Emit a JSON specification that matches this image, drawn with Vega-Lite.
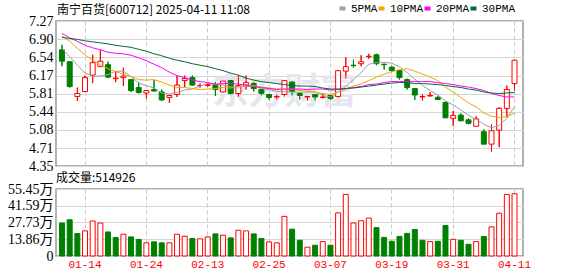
{
  "$schema": "https://vega.github.io/schema/vega-lite/v6.json",
  "padding": {"left": 5, "top": 2, "right": 5, "bottom": 0},
  "background": "white",
  "spacing": -3,
  "resolve": {"scale": {"color": "independent"}, "legend": {"color": "independent"}},
  "config": {
    "view": {"stroke": "#999999", "strokeWidth": 1.5},
    "axis": {"gridColor": "#d6d6d6", "gridWidth": 1, "domain": false, "ticks": false, "labelColor": "#000000", "labelFont": "Liberation Serif, Noto Sans CJK SC", "labelFontSize": 14, "labelPadding": 3, "labelOverlap": false, "title": null},
    "axisY": {"minExtent": 50, "maxExtent": 50},
    "title": {"anchor": "start", "frame": "group", "fontWeight": "normal", "font": "Noto Sans CJK SC", "fontSize": 12, "color": "#000000"},
    "legend": {"orient": "none", "legendX": 1, "legendY": -18, "padding": 0, "direction": "horizontal", "gridAlign": "none",
               "titleOrient": "left", "titleFont": "Noto Sans CJK SC", "titleFontSize": 12, "titleFontWeight": "normal", "titleColor": "#000000", "titlePadding": 86, "titleLimit": 400,
               "labelFont": "Liberation Mono", "labelFontSize": 11, "labelColor": "#000000", "symbolType": "stroke", "symbolSize": 36, "symbolStrokeWidth": 4, "labelOffset": 3, "columnPadding": -8}
  },
  "datasets": {
    "k": [
      {"d":"01-09","o":6.69,"h":6.79,"l":6.36,"c":6.46,"v":27.3,"vu":0,"5PMA":6.72,"10PMA":6.97,"20PMA":7.02,"30PMA":6.94},
      {"d":"01-10","o":6.45,"h":6.45,"l":5.93,"c":5.95,"v":30.0,"vu":0,"5PMA":6.55,"10PMA":6.86,"20PMA":6.93,"30PMA":6.92},
      {"d":"01-13","o":5.75,"h":5.93,"l":5.66,"c":5.81,"v":18.6,"vu":0,"5PMA":6.38,"10PMA":6.72,"20PMA":6.86,"30PMA":6.90},
      {"d":"01-14","o":5.85,"h":6.17,"l":5.85,"c":6.13,"v":20.8,"vu":1,"5PMA":6.22,"10PMA":6.59,"20PMA":6.78,"30PMA":6.87},
      {"d":"01-15","o":6.18,"h":6.59,"l":6.02,"c":6.43,"v":29.0,"vu":1,"5PMA":6.16,"10PMA":6.48,"20PMA":6.73,"30PMA":6.85},
      {"d":"01-16","o":6.35,"h":6.69,"l":6.35,"c":6.46,"v":27.3,"vu":1,"5PMA":6.16,"10PMA":6.38,"20PMA":6.69,"30PMA":6.83},
      {"d":"01-17","o":6.39,"h":6.45,"l":6.12,"c":6.14,"v":19.9,"vu":0,"5PMA":6.19,"10PMA":6.31,"20PMA":6.64,"30PMA":6.81},
      {"d":"01-20","o":6.11,"h":6.26,"l":6.04,"c":6.12,"v":15.3,"vu":0,"5PMA":6.26,"10PMA":6.25,"20PMA":6.62,"30PMA":6.78},
      {"d":"01-21","o":6.13,"h":6.33,"l":5.96,"c":6.16,"v":18.0,"vu":1,"5PMA":6.26,"10PMA":6.20,"20PMA":6.61,"30PMA":6.76},
      {"d":"01-22","o":6.09,"h":6.09,"l":5.84,"c":5.87,"v":15.8,"vu":0,"5PMA":6.15,"10PMA":6.15,"20PMA":6.58,"30PMA":6.74},
      {"d":"01-23","o":5.93,"h":6.03,"l":5.81,"c":5.83,"v":13.7,"vu":0,"5PMA":6.02,"10PMA":6.09,"20PMA":6.53,"30PMA":6.70},
      {"d":"01-24","o":5.82,"h":5.88,"l":5.71,"c":5.87,"v":10.9,"vu":1,"5PMA":5.97,"10PMA":6.08,"20PMA":6.47,"30PMA":6.66},
      {"d":"01-27","o":5.89,"h":6.08,"l":5.85,"c":5.86,"v":11.7,"vu":0,"5PMA":5.92,"10PMA":6.09,"20PMA":6.40,"30PMA":6.61},
      {"d":"02-05","o":5.84,"h":5.89,"l":5.66,"c":5.68,"v":10.9,"vu":0,"5PMA":5.82,"10PMA":6.04,"20PMA":6.33,"30PMA":6.57},
      {"d":"02-06","o":5.73,"h":5.77,"l":5.62,"c":5.77,"v":10.9,"vu":1,"5PMA":5.80,"10PMA":5.98,"20PMA":6.24,"30PMA":6.52},
      {"d":"02-07","o":5.79,"h":6.17,"l":5.74,"c":5.98,"v":18.0,"vu":1,"5PMA":5.83,"10PMA":5.93,"20PMA":6.17,"30PMA":6.48},
      {"d":"02-10","o":6.07,"h":6.17,"l":5.94,"c":6.11,"v":16.4,"vu":1,"5PMA":5.88,"10PMA":5.93,"20PMA":6.13,"30PMA":6.45},
      {"d":"02-11","o":6.13,"h":6.17,"l":5.97,"c":5.98,"v":14.5,"vu":0,"5PMA":5.90,"10PMA":5.91,"20PMA":6.08,"30PMA":6.41},
      {"d":"02-12","o":5.97,"h":6.01,"l":5.93,"c":5.97,"v":14.2,"vu":1,"5PMA":5.96,"10PMA":5.89,"20PMA":6.05,"30PMA":6.38},
      {"d":"02-13","o":5.97,"h":6.02,"l":5.95,"c":5.99,"v":15.8,"vu":1,"5PMA":6.01,"10PMA":5.90,"20PMA":6.03,"30PMA":6.35},
      {"d":"02-14","o":5.99,"h":6.04,"l":5.76,"c":5.89,"v":18.3,"vu":0,"5PMA":5.99,"10PMA":5.91,"20PMA":6.00,"30PMA":6.31},
      {"d":"02-17","o":5.84,"h":6.06,"l":5.83,"c":6.06,"v":17.2,"vu":1,"5PMA":5.98,"10PMA":5.93,"20PMA":6.01,"30PMA":6.27},
      {"d":"02-18","o":6.07,"h":6.07,"l":5.79,"c":5.81,"v":15.0,"vu":0,"5PMA":5.94,"10PMA":5.92,"20PMA":6.01,"30PMA":6.22},
      {"d":"02-19","o":5.81,"h":6.17,"l":5.74,"c":5.97,"v":21.3,"vu":1,"5PMA":5.94,"10PMA":5.95,"20PMA":6.00,"30PMA":6.18},
      {"d":"02-20","o":5.98,"h":6.17,"l":5.89,"c":6.03,"v":20.8,"vu":1,"5PMA":5.95,"10PMA":5.98,"20PMA":5.98,"30PMA":6.12},
      {"d":"02-21","o":6.01,"h":6.04,"l":5.85,"c":5.91,"v":18.3,"vu":0,"5PMA":5.96,"10PMA":5.97,"20PMA":5.95,"30PMA":6.08},
      {"d":"02-24","o":5.89,"h":5.89,"l":5.77,"c":5.81,"v":14.5,"vu":0,"5PMA":5.91,"10PMA":5.94,"20PMA":5.93,"30PMA":6.05},
      {"d":"02-25","o":5.79,"h":5.79,"l":5.69,"c":5.73,"v":11.7,"vu":1,"5PMA":5.89,"10PMA":5.92,"20PMA":5.91,"30PMA":6.03},
      {"d":"02-26","o":5.74,"h":5.79,"l":5.69,"c":5.75,"v":10.9,"vu":1,"5PMA":5.85,"10PMA":5.90,"20PMA":5.89,"30PMA":6.01},
      {"d":"02-27","o":5.79,"h":6.07,"l":5.75,"c":6.07,"v":32.8,"vu":1,"5PMA":5.85,"10PMA":5.90,"20PMA":5.90,"30PMA":5.99},
      {"d":"02-28","o":6.04,"h":6.06,"l":5.77,"c":5.85,"v":22.2,"vu":0,"5PMA":5.84,"10PMA":5.90,"20PMA":5.90,"30PMA":5.97},
      {"d":"03-03","o":5.81,"h":5.83,"l":5.69,"c":5.77,"v":13.0,"vu":0,"5PMA":5.83,"10PMA":5.87,"20PMA":5.90,"30PMA":5.96},
      {"d":"03-04","o":5.74,"h":5.75,"l":5.67,"c":5.75,"v":7.3,"vu":1,"5PMA":5.84,"10PMA":5.86,"20PMA":5.89,"30PMA":5.96},
      {"d":"03-05","o":5.79,"h":5.79,"l":5.67,"c":5.74,"v":8.9,"vu":0,"5PMA":5.84,"10PMA":5.84,"20PMA":5.90,"30PMA":5.95},
      {"d":"03-06","o":5.73,"h":5.81,"l":5.71,"c":5.74,"v":11.9,"vu":1,"5PMA":5.77,"10PMA":5.81,"20PMA":5.90,"30PMA":5.92},
      {"d":"03-07","o":5.77,"h":5.77,"l":5.68,"c":5.71,"v":8.9,"vu":0,"5PMA":5.74,"10PMA":5.79,"20PMA":5.88,"30PMA":5.90},
      {"d":"03-10","o":5.75,"h":6.27,"l":5.73,"c":6.27,"v":35.7,"vu":1,"5PMA":5.84,"10PMA":5.84,"20PMA":5.89,"30PMA":5.90},
      {"d":"03-11","o":6.26,"h":6.54,"l":6.11,"c":6.35,"v":50.9,"vu":1,"5PMA":5.96,"10PMA":5.90,"20PMA":5.91,"30PMA":5.91},
      {"d":"03-12","o":6.38,"h":6.49,"l":6.33,"c":6.37,"v":27.3,"vu":1,"5PMA":6.09,"10PMA":5.96,"20PMA":5.93,"30PMA":5.92},
      {"d":"03-13","o":6.41,"h":6.58,"l":6.36,"c":6.45,"v":29.2,"vu":1,"5PMA":6.23,"10PMA":6.00,"20PMA":5.95,"30PMA":5.94},
      {"d":"03-14","o":6.55,"h":6.61,"l":6.51,"c":6.56,"v":31.4,"vu":1,"5PMA":6.40,"10PMA":6.07,"20PMA":5.99,"30PMA":5.96},
      {"d":"03-17","o":6.59,"h":6.61,"l":6.38,"c":6.41,"v":23.5,"vu":0,"5PMA":6.43,"10PMA":6.14,"20PMA":6.00,"30PMA":5.98},
      {"d":"03-18","o":6.40,"h":6.41,"l":6.29,"c":6.39,"v":15.4,"vu":0,"5PMA":6.44,"10PMA":6.20,"20PMA":6.03,"30PMA":6.00},
      {"d":"03-19","o":6.34,"h":6.36,"l":6.26,"c":6.27,"v":12.2,"vu":0,"5PMA":6.42,"10PMA":6.25,"20PMA":6.05,"30PMA":6.02},
      {"d":"03-20","o":6.27,"h":6.27,"l":6.09,"c":6.13,"v":16.2,"vu":0,"5PMA":6.35,"10PMA":6.29,"20PMA":6.05,"30PMA":6.03},
      {"d":"03-21","o":6.09,"h":6.11,"l":5.89,"c":5.93,"v":18.7,"vu":0,"5PMA":6.23,"10PMA":6.31,"20PMA":6.05,"30PMA":6.03},
      {"d":"03-24","o":5.91,"h":5.91,"l":5.68,"c":5.78,"v":21.9,"vu":0,"5PMA":6.10,"10PMA":6.26,"20PMA":6.05,"30PMA":6.01},
      {"d":"03-25","o":5.74,"h":5.79,"l":5.67,"c":5.75,"v":13.0,"vu":0,"5PMA":5.97,"10PMA":6.20,"20PMA":6.05,"30PMA":6.01},
      {"d":"03-26","o":5.76,"h":5.84,"l":5.75,"c":5.77,"v":11.9,"vu":1,"5PMA":5.87,"10PMA":6.14,"20PMA":6.05,"30PMA":6.00},
      {"d":"03-27","o":5.73,"h":5.76,"l":5.69,"c":5.69,"v":12.2,"vu":0,"5PMA":5.78,"10PMA":6.07,"20PMA":6.03,"30PMA":5.99},
      {"d":"03-28","o":5.63,"h":5.65,"l":5.32,"c":5.32,"v":25.2,"vu":0,"5PMA":5.66,"10PMA":5.94,"20PMA":6.01,"30PMA":5.97},
      {"d":"03-31","o":5.31,"h":5.46,"l":5.16,"c":5.37,"v":13.8,"vu":1,"5PMA":5.58,"10PMA":5.84,"20PMA":5.99,"30PMA":5.95},
      {"d":"04-01","o":5.375,"h":5.41,"l":5.255,"c":5.26,"v":13.0,"vu":0,"5PMA":5.48,"10PMA":5.73,"20PMA":5.96,"30PMA":5.93},
      {"d":"04-02","o":5.28,"h":5.31,"l":5.19,"c":5.21,"v":9.7,"vu":0,"5PMA":5.37,"10PMA":5.62,"20PMA":5.94,"30PMA":5.90},
      {"d":"04-03","o":5.15,"h":5.35,"l":5.15,"c":5.30,"v":11.9,"vu":1,"5PMA":5.29,"10PMA":5.54,"20PMA":5.91,"30PMA":5.88},
      {"d":"04-07","o":5.04,"h":5.09,"l":4.79,"c":4.79,"v":16.2,"vu":0,"5PMA":5.19,"10PMA":5.42,"20PMA":5.87,"30PMA":5.84},
      {"d":"04-08","o":4.79,"h":5.19,"l":4.64,"c":5.06,"v":24.1,"vu":1,"5PMA":5.12,"10PMA":5.35,"20PMA":5.81,"30PMA":5.82},
      {"d":"04-09","o":5.07,"h":5.53,"l":4.73,"c":5.51,"v":35.4,"vu":1,"5PMA":5.17,"10PMA":5.33,"20PMA":5.77,"30PMA":5.81},
      {"d":"04-10","o":5.51,"h":5.97,"l":5.33,"c":5.89,"v":50.9,"vu":1,"5PMA":5.31,"10PMA":5.34,"20PMA":5.74,"30PMA":5.82},
      {"d":"04-11","o":6.01,"h":6.48,"l":5.86,"c":6.48,"v":51.49,"vu":1,"5PMA":5.54,"10PMA":5.42,"20PMA":5.74,"30PMA":5.83}
    ]
  },
  "vconcat": [
    {
      "width": 467,
      "height": 145,
      "data": {"name": "k"},
      "encoding": {
        "x": {"field": "d", "type": "ordinal", "sort": null,
              "scale": {"paddingInner": 0.35, "paddingOuter": 0.62, "align": 0.37},
              "axis": {"values": ["01-14","01-24","02-13","02-25","03-07","03-19","03-31","04-11"], "labels": false, "labelPadding": 0, "grid": true, "gridDash": [4, 3], "gridColor": "#c8c8c8", "bandPosition": 0.5}}
      },
      "layer": [
        {
          "mark": {"type": "rule", "strokeWidth": 1},
          "encoding": {
            "y": {"field": "l", "type": "quantitative", "scale": {"domain": [4.35, 7.27], "nice": false, "zero": false},
                  "axis": {"values": [4.35, 4.71, 5.08, 5.44, 5.81, 6.17, 6.54, 6.90, 7.27], "format": ".2f", "grid": true, "labelOverlap": false, "labelFontSize": 14}},
            "y2": {"field": "h"},
            "color": {"condition": {"test": "datum.c >= datum.o", "value": "#ff0000"}, "value": "#008000"}
          }
        },
        {
          "transform": [{"filter": "datum.d == '02-27'"}],
          "mark": {"type": "text", "font": "Noto Sans CJK SC", "fontWeight": "bold", "fontSize": 36, "color": "#e6e6ee", "baseline": "middle", "align": "center"},
          "encoding": {
            "y": {"datum": 5.82, "type": "quantitative", "scale": {"domain": [4.35, 7.27], "nice": false, "zero": false},
                  "axis": {"values": [4.35, 4.71, 5.08, 5.44, 5.81, 6.17, 6.54, 6.90, 7.27], "format": ".2f", "grid": true, "labelOverlap": false, "labelFontSize": 14}},
            "text": {"value": "东方财富"}
          }
        },
        {
          "mark": {"type": "rule", "strokeWidth": 1},
          "encoding": {
            "y": {"field": "l", "type": "quantitative", "scale": {"domain": [4.35, 7.27], "nice": false, "zero": false},
                  "axis": {"values": [4.35, 4.71, 5.08, 5.44, 5.81, 6.17, 6.54, 6.90, 7.27], "format": ".2f", "grid": true, "labelOverlap": false, "labelFontSize": 14}},
            "y2": {"field": "h"},
            "color": {"condition": {"test": "datum.c >= datum.o", "value": "#ff0000"}, "value": "#008000"}
          }
        },
        {
          "mark": {"type": "bar", "strokeWidth": 1},
          "encoding": {
            "y": {"field": "o", "type": "quantitative", "scale": {"domain": [4.35, 7.27], "nice": false, "zero": false},
                  "axis": {"values": [4.35, 4.71, 5.08, 5.44, 5.81, 6.17, 6.54, 6.90, 7.27], "format": ".2f", "grid": true, "labelOverlap": false, "labelFontSize": 14}},
            "y2": {"field": "c"},
            "fill": {"condition": {"test": "datum.c >= datum.o", "value": "#ffffff"}, "value": "#008000"},
            "stroke": {"condition": {"test": "datum.c >= datum.o", "value": "#ff0000"}, "value": "#008000"}
          }
        },
        {
          "transform": [{"fold": ["5PMA", "10PMA", "20PMA", "30PMA"], "as": ["ma", "val"]}],
          "mark": {"type": "line", "strokeWidth": 1},
          "encoding": {
            "y": {"field": "val", "type": "quantitative", "scale": {"domain": [4.35, 7.27], "nice": false, "zero": false},
                  "axis": {"values": [4.35, 4.71, 5.08, 5.44, 5.81, 6.17, 6.54, 6.90, 7.27], "format": ".2f", "grid": true, "labelOverlap": false, "labelFontSize": 14}},
            "color": {"field": "ma", "type": "nominal",
                      "scale": {"domain": ["5PMA", "10PMA", "20PMA", "30PMA"], "range": ["#a0a0a0", "#f5a300", "#ff00ff", "#006b33"]},
                      "legend": {"title": "南宁百货[600712] 2025-04-11 11:08", "gridAlign": "none", "columnPadding": -8, "titleLimit": 400}}
          }
        }
      ]
    },
    {
      "width": 467,
      "height": 67,
      "title": {"text": "成交量:514926", "offset": -3},
      "data": {"name": "k"},
      "mark": {"type": "bar", "strokeWidth": 1},
      "encoding": {
        "x": {"field": "d", "type": "ordinal", "sort": null,
              "scale": {"paddingInner": 0.35, "paddingOuter": 0.62, "align": 0.37},
              "axis": {"values": ["01-14","01-24","02-13","02-25","03-07","03-19","03-31","04-11"], "labelColor": "#ff0000", "labelFont": "Liberation Mono", "labelFontSize": 11, "labelPadding": 2, "labelAngle": 0, "grid": true, "gridDash": [4, 3], "gridColor": "#c8c8c8", "bandPosition": 0.5}},
        "y": {"field": "v", "type": "quantitative", "scale": {"domain": [0, 55.45], "nice": false},
              "axis": {"values": [0, 13.86, 27.73, 41.59, 55.45], "labelExpr": "datum.value == 0 ? '0' : format(datum.value, '.2f') + '万'", "grid": true, "labelOverlap": false}},
        "fill": {"condition": {"test": "datum.vu == 1", "value": "#ffffff"}, "value": "#008000"},
        "stroke": {"condition": {"test": "datum.vu == 1", "value": "#ff0000"}, "value": "#008000"}
      }
    }
  ]
}
